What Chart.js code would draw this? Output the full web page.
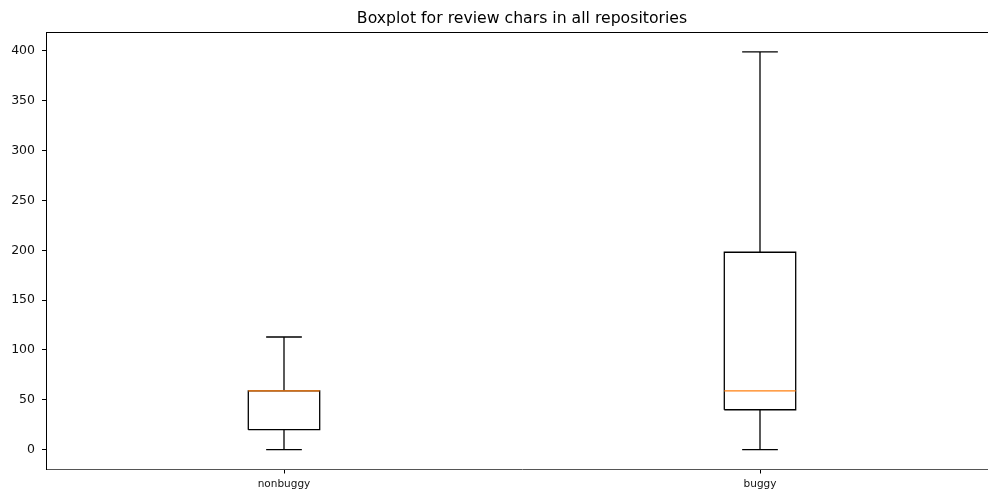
<!DOCTYPE html>
<html>
<head>
<meta charset="utf-8">
<script src="https://cdn.jsdelivr.net/npm/chart.js@4/dist/chart.umd.min.js"></script>
<style>
    html, body { margin: 0; padding: 0; background: #fff; overflow: hidden; }
    #wrap { width: 998px; height: 495px; }
</style>
</head>
<body>
<div id="wrap"><canvas id="box-canvas" width="998" height="495"></canvas></div>
<script>
// boxplot stats (review chars per group)
const categories = ['nonbuggy', 'buggy'];
const whiskerLow = [0, 0];
const quartile1 = [20, 40];
const medians = [59, 59];
const quartile3 = [59, 198];
const whiskerHigh = [113, 399];
const yTickValues = [0, 50, 100, 150, 200, 250, 300, 350, 400];

const BOX_HALF = 0.075;   // box is 0.15 x-units wide, like matplotlib's
const CAP_HALF = 0.0375;
const LINE = '#000000';
const MEDIAN = '#ff7f0e';
const FONT = "'DejaVu Sans', sans-serif";

function segment(points, color, order) {
    return {
        data: points,
        showLine: true,
        borderColor: color,
        borderWidth: 1.3,
        pointRadius: 0,
        fill: false,
        tension: 0,
        order,
    };
}

const datasets = [];
categories.forEach((name, i) => {
    const pos = i + 1;
    // box outline
    datasets.push(segment([
        { x: pos - BOX_HALF, y: quartile1[i] },
        { x: pos + BOX_HALF, y: quartile1[i] },
        { x: pos + BOX_HALF, y: quartile3[i] },
        { x: pos - BOX_HALF, y: quartile3[i] },
        { x: pos - BOX_HALF, y: quartile1[i] },
    ], LINE, 1));
    // whiskers and caps
    datasets.push(segment([{ x: pos, y: quartile1[i] }, { x: pos, y: whiskerLow[i] }], LINE, 1));
    datasets.push(segment([{ x: pos - CAP_HALF, y: whiskerLow[i] }, { x: pos + CAP_HALF, y: whiskerLow[i] }], LINE, 1));
    datasets.push(segment([{ x: pos, y: quartile3[i] }, { x: pos, y: whiskerHigh[i] }], LINE, 1));
    datasets.push(segment([{ x: pos - CAP_HALF, y: whiskerHigh[i] }, { x: pos + CAP_HALF, y: whiskerHigh[i] }], LINE, 1));
    // median on top
    datasets.push(segment([{ x: pos - BOX_HALF, y: medians[i] }, { x: pos + BOX_HALF, y: medians[i] }], MEDIAN, 0));
});

// matplotlib draws a frame round the axes; Chart.js only gives left/bottom
const topSpine = {
    id: 'topSpine',
    afterDraw(chart) {
        const { ctx, chartArea } = chart;
        ctx.save();
        ctx.strokeStyle = LINE;
        ctx.lineWidth = 1;
        ctx.beginPath();
        ctx.moveTo(chartArea.left, Math.round(chartArea.top) + 0.5);
        ctx.lineTo(chartArea.right, Math.round(chartArea.top) + 0.5);
        ctx.stroke();
        ctx.restore();
    },
};

const ymax = Math.max(...whiskerHigh);
const ymin = Math.min(...whiskerLow);
const margin = (ymax - ymin) * 0.05;

new Chart(document.getElementById('box-canvas').getContext('2d'), {
    type: 'scatter',
    data: { datasets },
    options: {
        responsive: false,
        animation: false,
        events: [],
        layout: { padding: 0 },
        scales: {
            x: {
                type: 'linear',
                min: 0.5,
                max: categories.length + 0.5,
                afterBuildTicks: axis => { axis.ticks = categories.map((c, i) => ({ value: i + 1 })); },
                afterFit: axis => { axis.height = 25.5; },
                ticks: {
                    callback: v => categories[v - 1],
                    color: '#111',
                    font: { family: FONT, size: 10.5 },
                    padding: 4,
                    maxRotation: 0,
                },
                grid: { drawOnChartArea: false, drawTicks: true, tickLength: 4, color: LINE },
                border: { color: '#555', width: 1 },
            },
            y: {
                type: 'linear',
                min: ymin - margin,
                max: ymax + margin,
                afterBuildTicks: axis => { axis.ticks = yTickValues.map(v => ({ value: v })); },
                afterFit: axis => { axis.width = 46; },
                ticks: {
                    color: '#111',
                    font: { family: FONT, size: 12.5 },
                    padding: 7,
                },
                grid: { drawOnChartArea: false, drawTicks: true, tickLength: 4, color: LINE },
                border: { color: LINE, width: 1 },
            },
        },
        plugins: {
            legend: { display: false },
            tooltip: { enabled: false },
            title: {
                display: true,
                text: 'Boxplot for review chars in all repositories',
                fullSize: false,
                color: '#000',
                font: { family: FONT, size: 15.7, weight: 'normal' },
                padding: { top: 10, bottom: 3.2 },
            },
        },
    },
    plugins: [topSpine],
});
</script>
</body>
</html>
